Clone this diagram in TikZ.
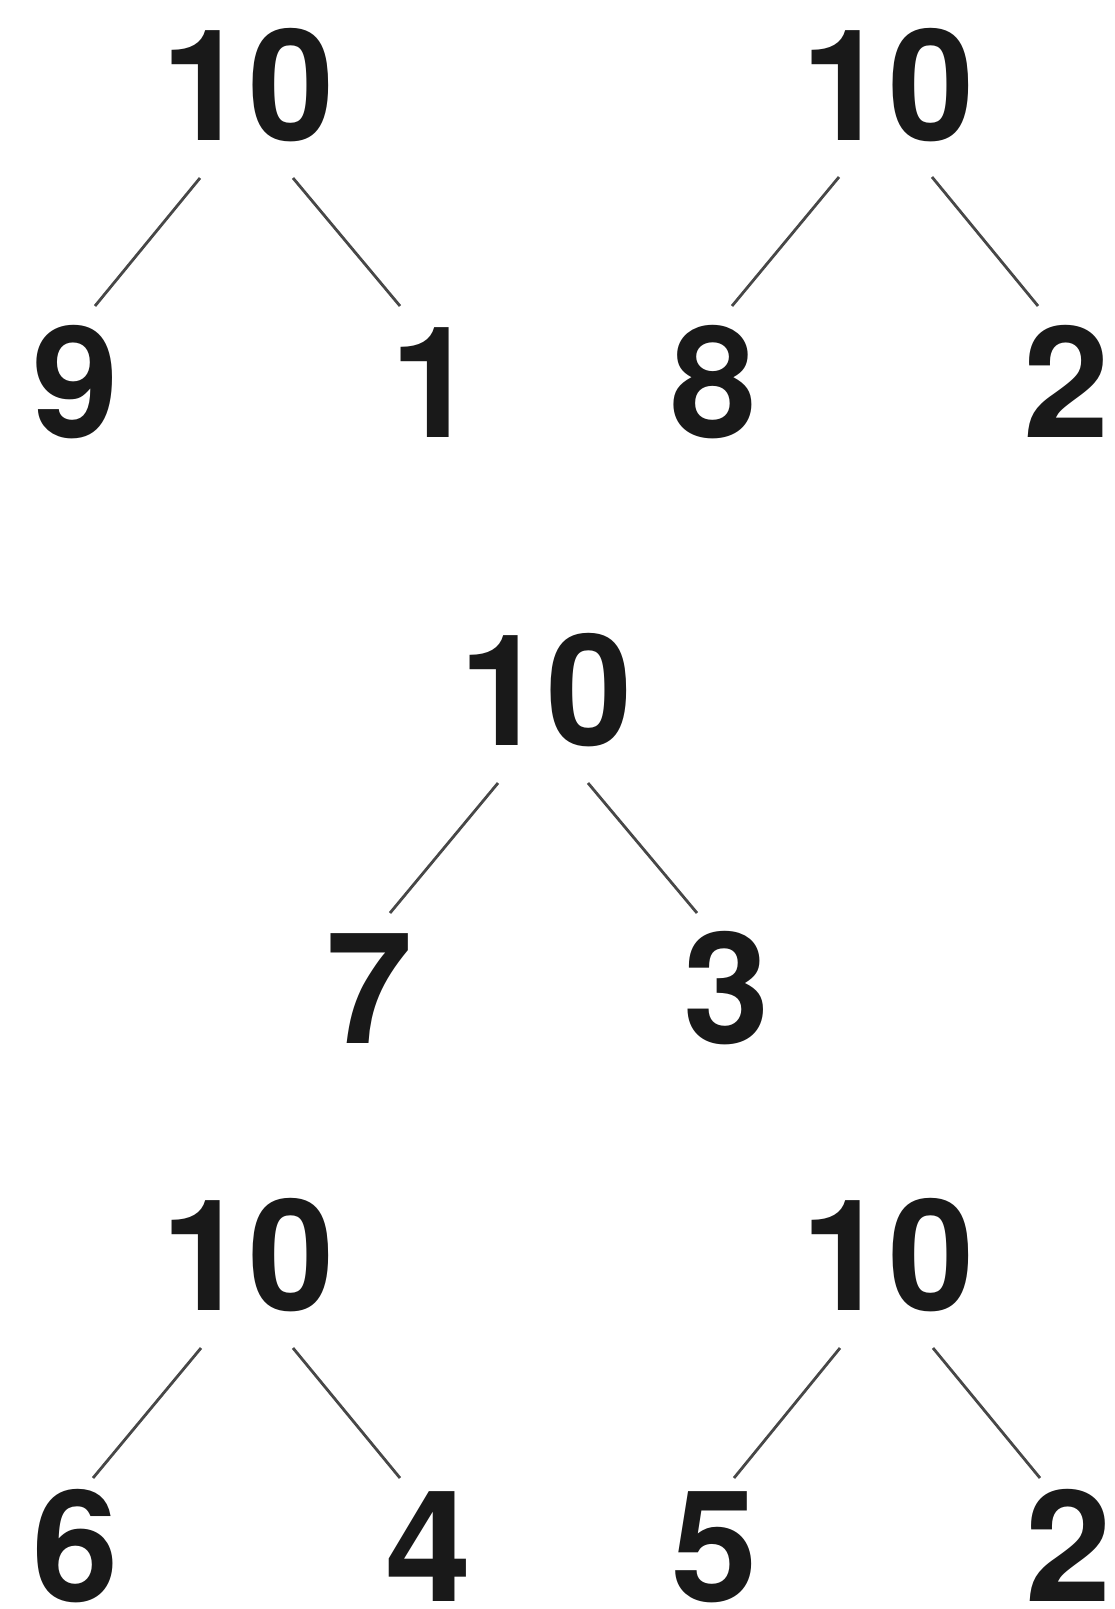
\documentclass[tikz,border=0pt]{standalone}
\usepackage{fontspec}
\setmainfont{TeX Gyre Heros}
\begin{document}
\begin{tikzpicture}[x=1pt,y=-1pt,
  num/.style={inner sep=0pt, anchor=base, text=black!90,
    font=\fontsize{155}{155}\selectfont\bfseries},
  bondline/.style={draw=black!72, line width=2.8pt}]
\useasboundingbox (0,0) rectangle (1114,1609);
% bond 1
\node[num] (a0) at (248,140) {10};
\node[num] (a1) at (76,437) {9};
\node[num] (a2) at (434,437) {1};
\coordinate (a0l) at (200,178); \coordinate (a1t) at (95,306);
\coordinate (a0r) at (293,178); \coordinate (a2t) at (400,306);
\draw[bondline] (a0l) -- (a1t);
\draw[bondline] (a0r) -- (a2t);
% bond 2
\node[num] (b0) at (888,140) {10};
\node[num] (b1) at (714,437) {8};
\node[num] (b2) at (1067,437) {2};
\coordinate (b0l) at (839,177); \coordinate (b1t) at (732,306);
\coordinate (b0r) at (932,177); \coordinate (b2t) at (1038,306);
\draw[bondline] (b0l) -- (b1t);
\draw[bondline] (b0r) -- (b2t);
% bond 3
\node[num] (c0) at (546,745) {10};
\node[num] (c1) at (370,1043) {7};
\node[num] (c2) at (727,1043) {3};
\coordinate (c0l) at (498,783); \coordinate (c1t) at (390,913);
\coordinate (c0r) at (588,783); \coordinate (c2t) at (697,913);
\draw[bondline] (c0l) -- (c1t);
\draw[bondline] (c0r) -- (c2t);
% bond 4
\node[num] (d0) at (248,1310) {10};
\node[num] (d1) at (76,1601) {6};
\node[num] (d2) at (429,1601) {4};
\coordinate (d0l) at (201,1348); \coordinate (d1t) at (93,1478);
\coordinate (d0r) at (293,1348); \coordinate (d2t) at (400,1478);
\draw[bondline] (d0l) -- (d1t);
\draw[bondline] (d0r) -- (d2t);
% bond 5
\node[num] (e0) at (888,1310) {10};
\node[num] (e1) at (715,1601) {5};
\node[num] (e2) at (1069,1601) {2};
\coordinate (e0l) at (840,1348); \coordinate (e1t) at (734,1478);
\coordinate (e0r) at (933,1348); \coordinate (e2t) at (1040,1478);
\draw[bondline] (e0l) -- (e1t);
\draw[bondline] (e0r) -- (e2t);
\end{tikzpicture}
\end{document}
